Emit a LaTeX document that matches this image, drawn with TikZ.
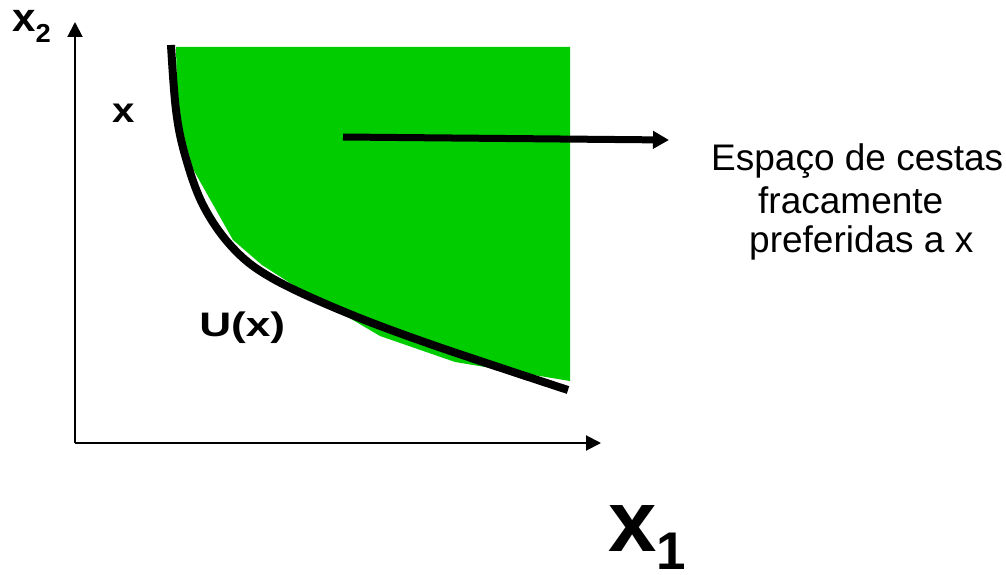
\documentclass[tikz,border=0pt]{standalone}
\usepackage{fontspec}
\setmainfont{Liberation Sans}
\usetikzlibrary{arrows.meta}
\definecolor{fillgreen}{RGB}{0,204,0}
\begin{document}
\begin{tikzpicture}[x=1pt,y=-1pt,
  axis/.style={line width=2pt,-{Triangle[length=15pt,width=15pt]}},
  bigarrow/.style={line width=7pt,-{Triangle[length=16pt,width=17pt]}},
  ucurve/.style={line width=8pt},
  lbl/.style={inner sep=0pt,anchor=base west,font=\bfseries},
  txt/.style={inner sep=0pt,anchor=base west,font=\fontsize{37}{42}\selectfont}]
\useasboundingbox (0,0) rectangle (1006,575);
% green region
\fill[fillgreen] (176,47) -- (570,47) -- (570,381) -- (455,362) -- (380,336)
  -- (290,283) -- (262,265) -- (233,240) -- (193,169) -- (182,130) -- (177,90) -- cycle;
% indifference curve
\draw[ucurve] plot[smooth,tension=0.6] coordinates {(171,45) (176,110) (185,155) (203,205) (232,247) (270,277) (340,310) (430,344) (568,390)};
% axes
\coordinate (O) at (75,443);
\coordinate (ytip) at (75,22);
\coordinate (xtip) at (601,443);
\draw[axis] (O) -- (ytip);
\draw[axis] (O) -- (xtip);
% arrow to text
\coordinate (astart) at (343,137);
\coordinate (aend) at (669,140);
\draw[bigarrow] (astart) -- (aend);
% labels
\node[lbl,xscale=1.05] (x2lab) at (12,32) {\fontsize{40}{40}\selectfont x\raisebox{-11pt}{\fontsize{26}{26}\selectfont 2}};
\node[lbl,xscale=1.15] (xlab) at (112,123) {\fontsize{35}{35}\selectfont x};
\node[lbl,xscale=1.3] (ulab) at (199,336) {\fontsize{34}{34}\selectfont U(x)};
\node[lbl] (x1lab) at (608,551) {\fontsize{87}{87}\selectfont x\raisebox{-18pt}{\fontsize{53}{53}\selectfont 1}};
\node[txt] (t1) at (711,170) {Espaço de cestas};
\node[txt] (t2) at (758,213) {fracamente};
\node[txt] (t3) at (749,252) {preferidas a x};
\end{tikzpicture}
\end{document}
